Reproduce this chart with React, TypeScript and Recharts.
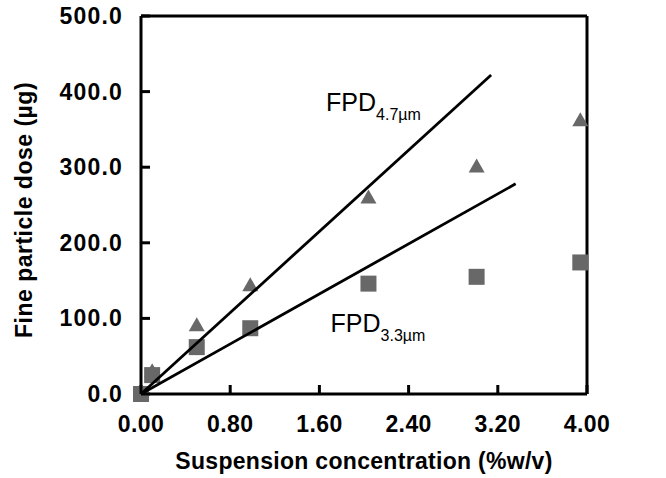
import { ComposedChart, Scatter, XAxis, YAxis, ReferenceDot, ReferenceLine } from 'recharts';

// concentration (%w/v) for each measured point
const concentration = [0, 0.1, 0.5, 0.98, 2.04, 3.01, 3.94];
// fine particle dose (µg)
const fpd47 = [0, 30, 91, 144, 260, 301, 362];
const fpd33 = [0, 25, 62, 87, 146, 155, 174];

// fitted lines through origin: [x, y] ends
const fit47X = [0, 3.14];
const fit47Y = [0, 422];
const fit33X = [0, 3.36];
const fit33Y = [0, 278];

const xTicks = [0, 0.8, 1.6, 2.4, 3.2, 4.0];
const yTicks = [0, 100, 200, 300, 400, 500];

const pts47 = concentration.map((x, i) => ({ x, y: fpd47[i] }));
const pts33 = concentration.map((x, i) => ({ x, y: fpd33[i] }));
const line47 = fit47X.map((x, i) => ({ x, y: fit47Y[i] }));
const line33 = fit33X.map((x, i) => ({ x, y: fit33Y[i] }));

const FONT = '"Liberation Sans", Arial, sans-serif';
const MARK = '#686868';

const Triangle = ({ cx, cy }: any) => (
  <polygon
    points={`${cx},${cy - 8} ${cx - 8},${cy + 6} ${cx + 8},${cy + 6}`}
    fill={MARK}
  />
);

const Square = ({ cx, cy }: any) => (
  <rect x={cx - 8} y={cy - 8} width={16} height={16} fill={MARK} />
);

const NoDot = () => <g />;

// ticks point inward, like the original
const XTick = ({ x, y, payload }: any) => (
  <g>
    <line x1={x} y1={y} x2={x} y2={y - 9} stroke="#000" strokeWidth={3} />
    <text x={x} y={y + 38} textAnchor="middle" fontFamily={FONT} fontSize={23} fontWeight="bold" letterSpacing={0.4} fill="#000">
      {Number(payload.value).toFixed(2)}
    </text>
  </g>
);

const YTick = ({ x, y, payload }: any) => (
  <g>
    <line x1={x} y1={y} x2={x + 9} y2={y} stroke="#000" strokeWidth={3} />
    <text x={x - 18} y={y + 8} textAnchor="end" fontFamily={FONT} fontSize={23} fontWeight="bold" letterSpacing={1.2} fill="#000">
      {Number(payload.value).toFixed(1)}
    </text>
  </g>
);

const FpdLabel = (sub: string) => (props: any) => {
  const { x, y } = props.viewBox;
  return (
    <text x={x} y={y} fontFamily={FONT} fontSize={25} fill="#000">
      FPD
      <tspan fontSize={16} dy={9}>{sub}</tspan>
    </text>
  );
};

export default function App() {
  return (
    <div style={{ position: 'absolute', left: 0, top: 0, width: 666, height: 478, background: '#fff' }}>
      <ComposedChart width={666} height={478} margin={{ top: 16, right: 79, bottom: 0, left: 0 }}>
        <XAxis
          dataKey="x"
          type="number"
          domain={[0, 4]}
          ticks={xTicks}
          height={84}
          tickSize={0}
          tickMargin={0}
          axisLine={{ stroke: '#000', strokeWidth: 3 }}
          tickLine={false}
          tick={<XTick />}
          interval={0}
          label={{
            content: (p: any) => (
              <text
                x={p.viewBox.x + p.viewBox.width / 2}
                y={p.viewBox.y + 75}
                textAnchor="middle"
                fontFamily={FONT}
                fontSize={23}
                fontWeight="bold"
                letterSpacing={0.3}
                fill="#000"
              >
                Suspension concentration (%w/v)
              </text>
            ),
          }}
        />
        <YAxis
          dataKey="y"
          type="number"
          domain={[0, 500]}
          ticks={yTicks}
          width={141}
          tickSize={0}
          tickMargin={0}
          axisLine={{ stroke: '#000', strokeWidth: 3 }}
          tickLine={false}
          tick={<YTick />}
          interval={0}
          label={{
            content: () => (
              <text
                x={32}
                y={210}
                transform="rotate(-90 32 210)"
                textAnchor="middle"
                fontFamily={FONT}
                fontSize={23}
                fontWeight="bold"
                letterSpacing={0.5}
                fill="#000"
              >
                Fine particle dose (µg)
              </text>
            ),
          }}
        />
        <Scatter data={pts47} shape={Triangle} isAnimationActive={false} />
        <Scatter data={pts33} shape={Square} isAnimationActive={false} />
        <Scatter data={line47} line={{ stroke: '#000', strokeWidth: 2.8 }} shape={NoDot} isAnimationActive={false} />
        <Scatter data={line33} line={{ stroke: '#000', strokeWidth: 2.8 }} shape={NoDot} isAnimationActive={false} />
        <ReferenceLine y={500} stroke="#000" strokeWidth={3} />
        <ReferenceLine x={4} stroke="#000" strokeWidth={3} />
        <ReferenceDot x={1.66} y={375} r={0} fill="none" stroke="none" label={{ content: FpdLabel('4.7µm') }} />
        <ReferenceDot x={1.7} y={82} r={0} fill="none" stroke="none" label={{ content: FpdLabel('3.3µm') }} />
      </ComposedChart>
    </div>
  );
}
